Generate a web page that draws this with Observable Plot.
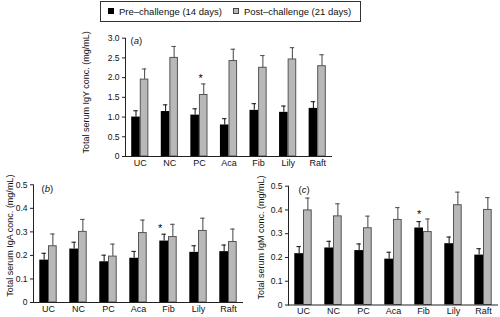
<!DOCTYPE html>
<html>
<head>
<meta charset="utf-8">
<script src="https://cdn.jsdelivr.net/npm/d3@7"></script>
<script src="https://cdn.jsdelivr.net/npm/@observablehq/plot@0.6"></script>
<style>
  html, body { margin: 0; padding: 0; background: #fff; }
  #page { position: relative; width: 500px; height: 317px; overflow: hidden; font-family: "Liberation Sans", Arial, sans-serif; }
  .legend { position: absolute; left: 100px; top: 1px; width: 259px; height: 19px; border: 1px solid #333; font-size: 9.5px; color: #111; }
  .legend .item { position: absolute; top: 4px; white-space: nowrap; line-height: 11px; }
  .legend .sw { display: inline-block; width: 6px; height: 6px; margin-right: 5px; vertical-align: 1px; box-sizing: border-box; }
  .panel { position: absolute; }
</style>
</head>
<body>
<div id="page">
  <div class="legend">
    <div class="item" style="left:7px"><span class="sw" style="background:#000"></span>Pre–challenge (14 days)</div>
    <div class="item" style="left:132px"><span class="sw" style="background:#b8b8b8;border:1px solid #444"></span>Post–challenge (21 days)</div>
  </div>
</div>
<script>
// ---- data ----
const categories = ["UC", "NC", "PC", "Aca", "Fib", "Lily", "Raft"];
const seriesNames = ["Pre–challenge (14 days)", "Post–challenge (21 days)"];

const igyPre     = [1.00, 1.14, 1.05, 0.80, 1.17, 1.12, 1.22];
const igyPreErr  = [0.16, 0.17, 0.16, 0.16, 0.17, 0.16, 0.17];
const igyPost    = [1.95, 2.50, 1.56, 2.42, 2.25, 2.46, 2.29];
const igyPostErr = [0.27, 0.29, 0.28, 0.30, 0.31, 0.30, 0.29];

const igaPre     = [0.180, 0.227, 0.173, 0.188, 0.261, 0.213, 0.216];
const igaPreErr  = [0.029, 0.029, 0.028, 0.029, 0.029, 0.028, 0.028];
const igaPost    = [0.239, 0.300, 0.195, 0.295, 0.278, 0.304, 0.257];
const igaPostErr = [0.052, 0.053, 0.053, 0.055, 0.054, 0.054, 0.055];

const igmPre     = [0.216, 0.240, 0.229, 0.193, 0.324, 0.258, 0.210];
const igmPreErr  = [0.030, 0.028, 0.028, 0.029, 0.027, 0.028, 0.027];
const igmPost    = [0.398, 0.373, 0.323, 0.358, 0.307, 0.420, 0.400];
const igmPostErr = [0.052, 0.053, 0.051, 0.052, 0.055, 0.055, 0.052];

const igyTicks = [0, 0.5, 1.0, 1.5, 2.0, 2.5, 3.0];
const igTicks  = [0, 0.1, 0.2, 0.3, 0.4, 0.5];

const igyTitle = "Total serum IgY conc. (mg/mL)";
const igaTitle = "Total serum IgA conc. (mg/mL)";
const igmTitle = "Total serum IgM conc. (mg/mL)";

// significance markers: category, series index, y position of the asterisk
const igyStar = {cat: "PC", series: 1, y: 1.97};
const igaStar = {cat: "Fib", series: 0, y: 0.316};
const igmStar = {cat: "Fib", series: 0, y: 0.380};

const fmt = d => d === 0 ? "0" : d.toFixed(1);

function rows(values, errs) {
  return categories.map((c, i) => ({cat: c, value: values[i], err: errs[i]}));
}

function panel(o) {
  const pi = o.pi ?? 0.42, po = o.po ?? pi / 2;
  const bw = d3.scaleBand().domain(categories).range([o.mL, o.width - o.mR])
    .paddingInner(pi).paddingOuter(po).bandwidth();
  const pre = rows(o.pre, o.preErr), post = rows(o.post, o.postErr);
  const half = bw / 2, q = bw / 4, cap = 2.2;
  const starDx = o.star.series === 0 ? -q + (o.starDx || 0) : q + (o.starDx || 0);
  const svg = Plot.plot({
    width: o.width, height: o.height,
    marginLeft: o.mL, marginRight: o.mR, marginTop: o.mT, marginBottom: o.mB,
    style: {fontFamily: "'Liberation Sans', Arial, sans-serif", fontSize: "9px", background: "transparent", color: "#111", overflow: "visible"},
    x: {domain: categories, paddingInner: pi, paddingOuter: po, round: false, axis: null},
    y: {domain: o.yDomain, axis: null},
    marks: [
      Plot.barY(pre, {x: "cat", y: "value", fill: "#000", insetRight: half}),
      Plot.barY(post, {x: "cat", y: "value", fill: "#b8b8b8", stroke: "#555", strokeWidth: 1, insetLeft: half + 0.5, insetRight: 0.5}),
      Plot.ruleX(pre, {x: "cat", y1: "value", y2: d => d.value + d.err, dx: -q, stroke: "#222", strokeWidth: 1.1}),
      Plot.tickY(pre, {x: "cat", y: d => d.value + d.err, insetLeft: q - cap, insetRight: 3 * q - cap, stroke: "#222", strokeWidth: 1.1}),
      Plot.ruleX(post, {x: "cat", y1: "value", y2: d => d.value + d.err, dx: q, stroke: "#555", strokeWidth: 1.1}),
      Plot.tickY(post, {x: "cat", y: d => d.value + d.err, insetLeft: 3 * q - cap, insetRight: q - cap, stroke: "#555", strokeWidth: 1.1}),
      Plot.ruleY([0], {stroke: "#222"}),
      Plot.frame({anchor: "left", stroke: "#222"}),
      Plot.axisY({ticks: o.yTicks, tickFormat: fmt, tickSize: 3, tickPadding: 3, fontSize: 8.5, stroke: "#222", label: null}),
      Plot.axisX({tickSize: 0, tickPadding: 3, fontSize: 9, label: null}),
      Plot.text([o.title], {frameAnchor: "left", textAnchor: "middle", lineAnchor: "middle", rotate: -90, dx: o.titleDx, dy: o.titleDy, fontSize: 9, fill: "#111"}),
      Plot.text([o.tag], {frameAnchor: "top-left", textAnchor: "start", lineAnchor: "middle", dx: o.tagDx, dy: o.tagDy, fontSize: 9.5, fill: "#111"}),
      Plot.text([o.star], {x: "cat", y: "y", text: () => "*", dx: starDx, lineAnchor: "middle", fontSize: 11, fill: "#000"})
    ]
  });
  // italicise the panel letter inside its parentheses
  svg.querySelectorAll("text").forEach(t => {
    if (t.textContent === o.tag) {
      const letter = o.tag.slice(1, -1);
      t.innerHTML = `(<tspan font-style="italic">${letter}</tspan>)`;
    }
  });
  const wrap = document.createElement("div");
  wrap.className = "panel";
  wrap.style.left = o.left + "px";
  wrap.style.top = o.top + "px";
  wrap.appendChild(svg);
  document.getElementById("page").appendChild(wrap);
}

panel({pre: igyPre, preErr: igyPreErr, post: igyPost, postErr: igyPostErr, yDomain: [0, 3], yTicks: igyTicks,
  title: igyTitle, tag: "(a)", star: igyStar, starDx: -3,
  left: 70, top: 24, width: 275, height: 150, mL: 55, mR: 13, mT: 13.7, mB: 18,
  titleDx: -39, titleDy: -5, tagDx: 5, tagDy: 2.5});

panel({pre: igaPre, preErr: igaPreErr, post: igaPost, postErr: igaPostErr, yDomain: [0, 0.5], yTicks: igTicks,
  title: igaTitle, tag: "(b)", star: igaStar, starDx: -4,
  left: 0, top: 174, width: 250, height: 143, mL: 33, mR: 7, mT: 10.3, mB: 15,
  titleDx: -23.5, titleDy: -8, tagDx: 8, tagDy: 4.5});

panel({pre: igmPre, preErr: igmPreErr, post: igmPost, postErr: igmPostErr, yDomain: [0, 0.5], yTicks: igTicks,
  title: igmTitle, tag: "(c)", star: igmStar, starDx: 0,
  left: 250, top: 174, width: 250, height: 143, mL: 38, mR: 2, mT: 11.7, mB: 12.5,
  titleDx: -27, titleDy: -8, tagDx: 10, tagDy: 3.5});
</script>
</body>
</html>
